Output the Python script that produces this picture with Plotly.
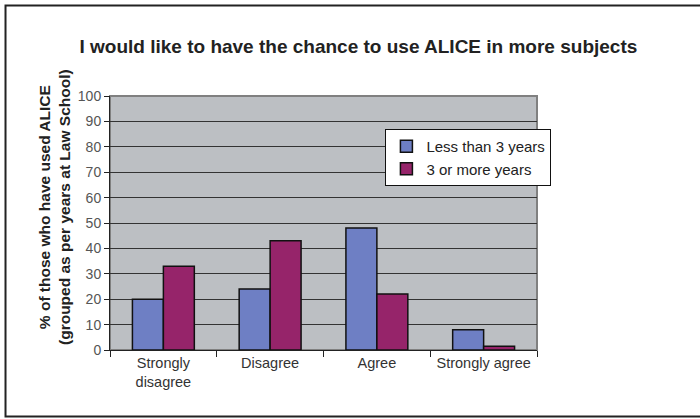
import plotly.graph_objects as go

categories = ["Strongly<br>disagree", "Disagree", "Agree", "Strongly agree"]
less_than_3 = [20, 24, 48, 8]
three_or_more = [33, 43, 22, 1.5]
series_names = ["Less than 3 years", "3 or more years"]
y_ticks = list(range(0, 101, 10))

fig = go.Figure()
fig.add_trace(go.Bar(x=categories, y=less_than_3, name=series_names[0],
                     marker=dict(color="#6E7FC4", line=dict(color="#111111", width=1.5))))
fig.add_trace(go.Bar(x=categories, y=three_or_more, name=series_names[1],
                     marker=dict(color="#96246A", line=dict(color="#111111", width=1.5))))

fig.update_layout(
    width=700, height=419,
    margin=dict(l=110, r=163, t=96, b=69),
    paper_bgcolor="white",
    plot_bgcolor="#BCBFC3",
    barmode="group",
    bargap=0.42,
    bargroupgap=0,
    font=dict(family="Liberation Sans, Arial, sans-serif", color="#222"),
    title=dict(text="<b>I would like to have the chance to use ALICE in more subjects</b>",
               x=0.512, xanchor="center", y=0.89, yanchor="middle",
               font=dict(size=19, color="#222")),
    legend=dict(x=0.645, y=0.87, xanchor="left", yanchor="top",
                bgcolor="white", bordercolor="#111", borderwidth=1,
                font=dict(size=15, color="#222"), traceorder="normal",
                itemwidth=30, tracegroupgap=0),
    showlegend=True,
    xaxis=dict(tickfont=dict(size=14.5, color="#333"), showline=True, linecolor="#222",
               linewidth=1, ticks="outside", tickson="boundaries", ticklen=6,
               tickcolor="#222", showgrid=False),
    yaxis=dict(range=[0, 100], tickvals=y_ticks, tickfont=dict(size=14, color="#555"),
               showline=True, linecolor="#222", linewidth=1, ticks="outside",
               ticklen=5, tickcolor="#222", showgrid=True, gridcolor="#333",
               gridwidth=1, zeroline=False),
    annotations=[
        dict(text="<b>% of those who have used ALICE<br>(grouped as per years at Law School)</b>",
             xref="paper", yref="paper", x=-0.082, y=0.565, xanchor="right", yanchor="middle",
             textangle=-90, showarrow=False, font=dict(size=15.5, color="#222")),
    ],
    shapes=[
        dict(type="rect", xref="paper", yref="paper", x0=0, x1=1, y0=0, y1=1,
             line=dict(color="#808080", width=2), layer="below"),
        dict(type="rect", xref="paper", yref="paper", x0=-0.2447, x1=1.39, y0=-0.2618, y1=1.356,
             line=dict(color="#222", width=2)),
    ],
)

fig.write_html("out.html")
